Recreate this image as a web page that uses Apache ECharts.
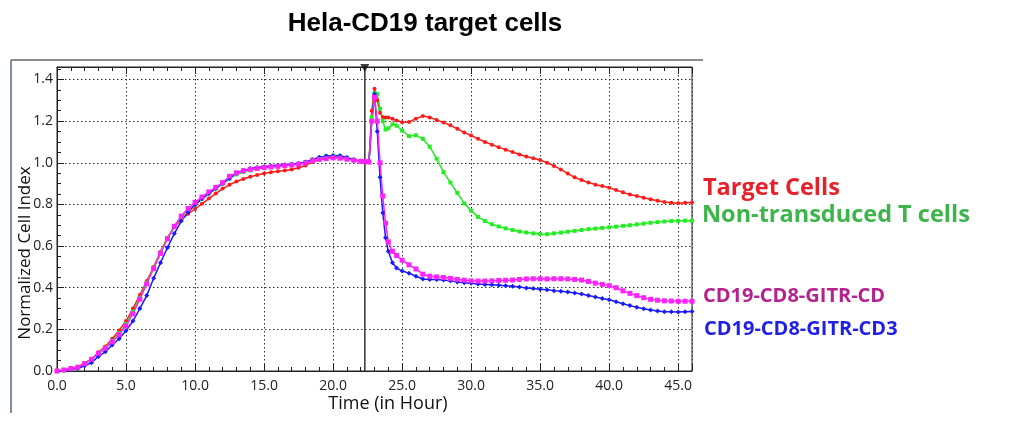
<!DOCTYPE html>
<html>
<head>
<meta charset="utf-8">
<script src="https://cdn.jsdelivr.net/npm/echarts@6/dist/echarts.min.js"></script>
<style>
  html, body { margin: 0; padding: 0; background: #ffffff; }
  #chart { width: 1026px; height: 426px; }
</style>
</head>
<body>
<div id="chart"></div>
<script>
// Time points (hours)
var times = [
  0, 0.5, 1, 1.5, 2, 2.5, 3, 3.5, 4, 4.5, 5, 5.5, 6, 6.5, 7, 7.5, 8, 8.5, 9, 9.5,
  10, 10.5, 11, 11.5, 12, 12.5, 13, 13.5, 14, 14.5, 15, 15.5, 16, 16.5, 17, 17.5,
  18, 18.5, 19, 19.5, 20, 20.5, 21, 21.5, 22,
  22.3, 22.6, 22.8, 23.0, 23.2, 23.4, 23.6, 23.8, 24.0, 24.3, 24.6,
  25, 25.5, 26, 26.5, 27, 27.5, 28, 28.5, 29, 29.5, 30, 30.5, 31, 31.5, 32, 32.5,
  33, 33.5, 34, 34.5, 35, 35.5, 36, 36.5, 37, 37.5, 38, 38.5, 39, 39.5, 40, 40.5,
  41, 41.5, 42, 42.5, 43, 43.5, 44, 44.5, 45, 45.5, 46
];

var targetCells = [
  0, 0.005, 0.012, 0.02, 0.038, 0.058, 0.09, 0.118, 0.155, 0.195, 0.24, 0.3, 0.365, 0.432, 0.5, 0.573, 0.64, 0.692, 0.728, 0.755,
  0.778, 0.803, 0.828, 0.852, 0.876, 0.894, 0.91, 0.922, 0.933, 0.941, 0.948, 0.954, 0.959, 0.963, 0.968, 0.976,
  0.987, 1.004, 1.015, 1.022, 1.027, 1.026, 1.02, 1.013, 1.006,
  1.004, 1.003, 1.25, 1.355, 1.3, 1.24, 1.22, 1.218, 1.218, 1.212, 1.203,
  1.195, 1.196, 1.212, 1.225, 1.218, 1.206, 1.193, 1.18, 1.163, 1.146, 1.131, 1.115, 1.1, 1.087, 1.074, 1.063,
  1.052, 1.04, 1.03, 1.022, 1.013, 1.0, 0.985, 0.968, 0.948, 0.93, 0.917, 0.905, 0.895, 0.888, 0.88, 0.869,
  0.858, 0.848, 0.84, 0.832, 0.825, 0.818, 0.812, 0.808, 0.806, 0.808, 0.809
];

var nonTransduced = [
  0, 0.005, 0.012, 0.019, 0.036, 0.057, 0.087, 0.113, 0.145, 0.182, 0.226, 0.285, 0.352, 0.424, 0.496, 0.569, 0.638, 0.694, 0.738, 0.772,
  0.8, 0.827, 0.852, 0.876, 0.899, 0.925, 0.944, 0.956, 0.964, 0.97, 0.975, 0.979, 0.983, 0.986, 0.99, 0.995,
  1.003, 1.016, 1.025, 1.031, 1.034, 1.033, 1.025, 1.015, 1.008,
  1.006, 1.005, 1.22, 1.335, 1.33, 1.26, 1.2, 1.16, 1.165, 1.185, 1.178,
  1.155, 1.128, 1.132, 1.115, 1.077, 1.02, 0.955, 0.905, 0.855, 0.805, 0.77, 0.74, 0.72, 0.705, 0.694, 0.685,
  0.677, 0.67, 0.665, 0.661, 0.658, 0.657, 0.661, 0.665, 0.669, 0.673, 0.677, 0.681, 0.684, 0.687, 0.69, 0.693,
  0.697, 0.7, 0.704, 0.708, 0.712, 0.715, 0.718, 0.72, 0.721, 0.722, 0.722
];

var gitrCD = [
  0, 0.005, 0.012, 0.018, 0.035, 0.056, 0.085, 0.11, 0.14, 0.175, 0.217, 0.275, 0.345, 0.418, 0.492, 0.565, 0.635, 0.695, 0.744, 0.78,
  0.81, 0.836, 0.86, 0.882, 0.905, 0.935, 0.952, 0.962, 0.968, 0.973, 0.977, 0.98, 0.983, 0.986, 0.989, 0.993,
  0.999, 1.01, 1.016, 1.02, 1.024, 1.022, 1.017, 1.012, 1.007,
  1.006, 1.004, 1.2, 1.315, 1.2, 1.0, 0.84, 0.71, 0.62, 0.575, 0.555,
  0.532, 0.51, 0.49, 0.465, 0.455, 0.452, 0.449, 0.445, 0.44, 0.436, 0.433, 0.432, 0.432, 0.433, 0.435, 0.436,
  0.437, 0.44, 0.442, 0.443, 0.443, 0.442, 0.443, 0.443, 0.442, 0.44, 0.437, 0.43, 0.422, 0.416, 0.41, 0.4,
  0.385, 0.373, 0.362, 0.352, 0.344, 0.34, 0.337, 0.336, 0.335, 0.335, 0.335
];

var gitrCD3 = [
  0, 0.003, 0.008, 0.012, 0.025, 0.04, 0.07, 0.092, 0.125, 0.155, 0.193, 0.24, 0.3, 0.362, 0.445, 0.52, 0.592, 0.66, 0.72, 0.762,
  0.799, 0.827, 0.852, 0.876, 0.902, 0.925, 0.95, 0.963, 0.972, 0.977, 0.981, 0.985, 0.988, 0.99, 0.993, 0.996,
  1.004, 1.015, 1.027, 1.032, 1.034, 1.034, 1.025, 1.015, 1.008,
  1.006, 1.004, 1.2, 1.33, 1.15, 0.93, 0.76, 0.64, 0.575, 0.52, 0.495,
  0.48, 0.47, 0.455, 0.442, 0.44, 0.439, 0.437, 0.433, 0.428, 0.424, 0.421, 0.418, 0.416, 0.414, 0.412, 0.41,
  0.407, 0.403, 0.399, 0.396, 0.393, 0.39, 0.386, 0.383, 0.379, 0.375, 0.37, 0.363, 0.355, 0.348, 0.342, 0.333,
  0.323, 0.314, 0.306, 0.299, 0.293, 0.288, 0.285, 0.284, 0.283, 0.285, 0.286
];

var seriesNames = ['Target Cells', 'Non-transduced T cells', 'CD19-CD8-GITR-CD', 'CD19-CD8-GITR-CD3'];
var treatmentTime = 22.3;

function pairs(vals) {
  return times.map(function (t, i) { return [t, vals[i]]; });
}

var chart = echarts.init(document.getElementById('chart'), null, { renderer: 'canvas' });

var labelFont = "'Open Sans', 'DejaVu Sans', sans-serif";

function lineSeries(name, vals, color, symbol, size) {
  return {
    name: name,
    type: 'line',
    data: pairs(vals),
    symbol: symbol,
    symbolSize: size,
    showSymbol: true,
    lineStyle: { color: color, width: 1.5 },
    itemStyle: { color: color },
    animation: false,
    z: 3
  };
}

var option = {
  animation: false,
  backgroundColor: '#ffffff',
  title: {
    text: 'Hela-CD19 target cells',
    left: 420,
    top: 6,
    textAlign: 'center',
    textStyle: { fontFamily: "'Liberation Sans', Arial, sans-serif", fontWeight: 'bold', fontSize: 26, color: '#000' }
  },
  grid: {
    left: 57, right: 334, top: 67, bottom: 55,
    show: true, borderColor: '#222', borderWidth: 1, backgroundColor: '#ffffff'
  },
  xAxis: [{
    type: 'value', min: 0, max: 46, interval: 5,
    axisLine: { show: true, lineStyle: { color: '#222', width: 1 } },
    axisTick: { show: true, inside: true, length: 7, lineStyle: { color: '#222' } },
    minorTick: { show: true, splitNumber: 5, length: 4, lineStyle: { color: '#222' } },
    axisLabel: {
      color: '#222', fontSize: 14, fontFamily: labelFont, margin: 8,
      formatter: function (v) { return (Math.abs(v % 5) < 1e-6) ? v.toFixed(1) : ''; }
    },
    splitLine: { show: true, lineStyle: { color: '#333', type: [1.5, 2.5], width: 1 } }
  }, {
    type: 'value', min: 0, max: 46, interval: 5, position: 'top',
    axisLine: { show: true, lineStyle: { color: '#222', width: 1 } },
    axisTick: { show: true, inside: true, length: 7, lineStyle: { color: '#222' } },
    minorTick: { show: true, splitNumber: 5, length: 4, lineStyle: { color: '#222' } },
    axisLabel: { show: false },
    splitLine: { show: false }
  }],
  yAxis: {
    type: 'value', min: 0, max: 1.46, interval: 0.2,
    axisLine: { show: true, lineStyle: { color: '#222', width: 1 } },
    axisTick: { show: true, inside: true, length: 7, lineStyle: { color: '#222' } },
    minorTick: { show: true, splitNumber: 4, length: 4, lineStyle: { color: '#222' } },
    axisLabel: {
      color: '#222', fontSize: 14, fontFamily: labelFont, margin: 4,
      formatter: function (v) { var r = Math.round(v * 10) / 10; return (Math.abs(v - r) < 1e-6 && Math.round(v * 10) % 2 === 0) ? v.toFixed(1) : ''; }
    },
    splitLine: { show: true, lineStyle: { color: '#333', type: [1.5, 2.5], width: 1 } }
  },
  series: [
    lineSeries(seriesNames[0], targetCells, '#ff1a1a', 'circle', 4),
    lineSeries(seriesNames[1], nonTransduced, '#22ee22', 'rect', 4),
    lineSeries(seriesNames[3], gitrCD3, '#1a1aff', 'diamond', 5),
    lineSeries(seriesNames[2], gitrCD, '#ff22ff', 'rect', 5),
    {
      name: 'treatment',
      type: 'line',
      data: [[treatmentTime, 0], [treatmentTime, 1.46]],
      symbol: 'none',
      lineStyle: { color: '#333', width: 1.5 },
      z: 2
    },
    {
      name: 'marker',
      type: 'scatter',
      data: [[treatmentTime, 1.46]],
      symbol: 'triangle',
      symbolRotate: 180,
      symbolSize: [9, 8],
      symbolOffset: [0, 1],
      itemStyle: { color: '#111' },
      clip: false,
      z: 5
    }
  ],
  graphic: [
    { type: 'line', shape: { x1: 11, y1: 60, x2: 11, y2: 413 }, style: { stroke: '#7d8fa6', lineWidth: 2 } },
    { type: 'line', shape: { x1: 11, y1: 60, x2: 703, y2: 60 }, style: { stroke: '#666', lineWidth: 1.5 } },
    {
      type: 'text', x: 25, y: 253, rotation: Math.PI / 2,
      style: { text: 'Normalized Cell Index', fill: '#111', font: "17px 'Open Sans', sans-serif", textAlign: 'center', textVerticalAlign: 'middle' }
    },
    {
      type: 'text', x: 388, y: 404,
      style: { text: 'Time (in Hour)', fill: '#111', font: "18px 'Open Sans', sans-serif", textAlign: 'center', textVerticalAlign: 'middle' }
    },
    {
      type: 'text', x: 703, y: 188,
      style: { text: seriesNames[0], fill: '#e8202a', font: "bold 23.5px 'Open Sans', sans-serif", textAlign: 'left', textVerticalAlign: 'middle' }
    },
    {
      type: 'text', x: 702, y: 215,
      style: { text: seriesNames[1], fill: '#3db54a', font: "bold 23.5px 'Open Sans', sans-serif", textAlign: 'left', textVerticalAlign: 'middle' }
    },
    {
      type: 'text', x: 703, y: 296,
      style: { text: seriesNames[2], fill: '#b52290', font: "bold 20px 'Open Sans', sans-serif", textAlign: 'left', textVerticalAlign: 'middle' }
    },
    {
      type: 'text', x: 704, y: 329,
      style: { text: seriesNames[3], fill: '#1f1fe6', font: "bold 20px 'Open Sans', sans-serif", textAlign: 'left', textVerticalAlign: 'middle' }
    }
  ]
};

chart.setOption(option);
</script>
</body>
</html>
